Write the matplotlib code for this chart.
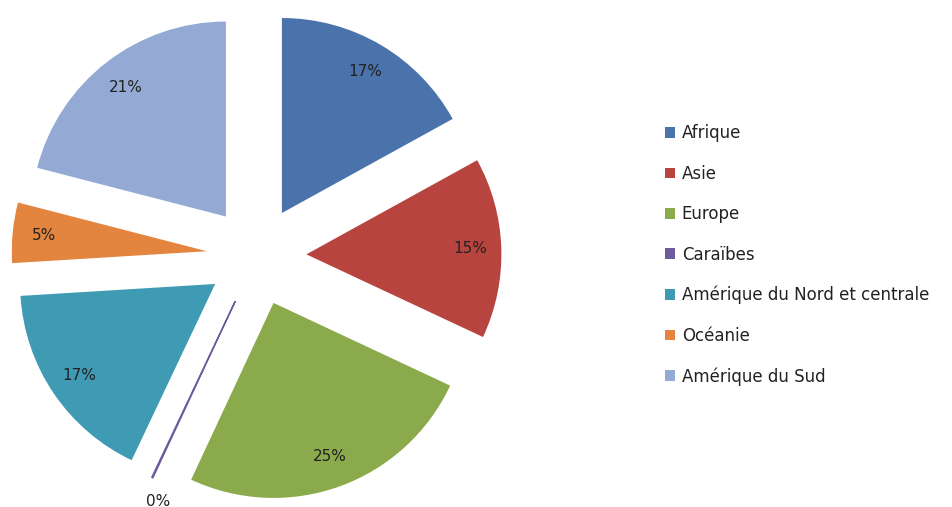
import numpy as np
import matplotlib
matplotlib.use("Agg")
import matplotlib.pyplot as plt
from matplotlib.patches import Patch


regions = ["Afrique", "Asie", "Europe", "Caraïbes",
           "Amérique du Nord et centrale", "Océanie", "Amérique du Sud"]
shares = [17, 15, 25, 0.1, 17, 5, 21]
colors = ["#4A73AB", "#B8443F", "#8AAA4B", "#6E5A9C",
          "#3F9AB3", "#E3853E", "#94AAD4"]


def main():
    plt.rcParams["font.family"] = ["DejaVu Sans"]
    fig = plt.figure(figsize=(9.53, 5.07), dpi=100)
    # axes en pixels : carré de 500 px centré sur (256.5, 251)
    ax = fig.add_axes([6.5 / 953, 1 / 507, 500 / 953, 500 / 507])

    explode = [0.256] * len(shares)
    wedges, texts, autotexts = ax.pie(
        shares,
        colors=colors,
        explode=explode,
        startangle=90,
        counterclock=False,
        autopct=lambda p: f"{p:.0f}%",
        pctdistance=0.84,
        radius=1.0,
        wedgeprops={"linewidth": 0},
        textprops={"fontsize": 11, "color": "#222222"},
    )
    # étiquette de la part quasi nulle : hors du secteur
    w = wedges[3]
    ang = np.deg2rad((w.theta1 + w.theta2) / 2 + 4)
    cx, cy = w.center
    autotexts[3].set_position((cx + 1.10 * np.cos(ang), cy + 1.10 * np.sin(ang)))
    w.set_edgecolor(colors[3])
    w.set_linewidth(1.0)

    lim = 250 / 195
    ax.set_xlim(-lim, lim)
    ax.set_ylim(-lim, lim)
    ax.set_aspect("equal")
    ax.axis("off")

    handles = [Patch(facecolor=c, edgecolor="none") for c in colors]
    fig.legend(
        handles, regions,
        loc="center left",
        bbox_to_anchor=(665 / 953, 252 / 507),
        frameon=False,
        fontsize=12,
        labelspacing=1.34,
        handlelength=0.6,
        handleheight=0.6,
        handletextpad=0.4,
        borderpad=0,
        borderaxespad=0,
        labelcolor="#222222",
    )
    fig.savefig("out.png", dpi=100, facecolor="white")
    plt.close(fig)
    return None


if __name__ == "__main__":
    main()
